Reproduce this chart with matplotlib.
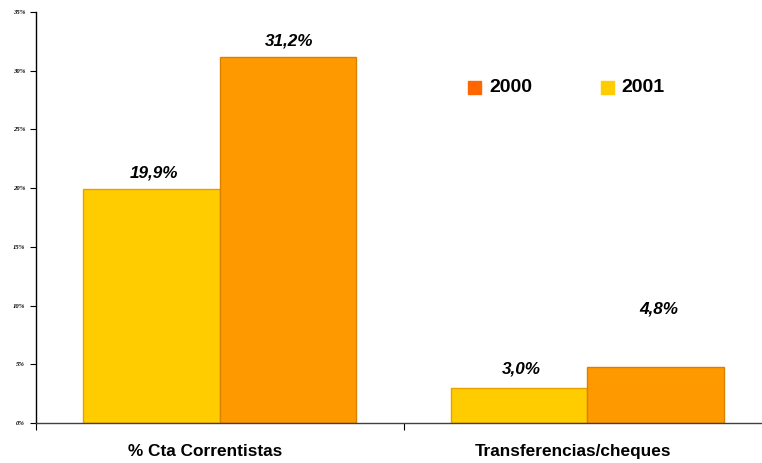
import matplotlib.pyplot as plt
import numpy as np

categories = ["% Cta Correntistas", "Transferencias/cheques"]
values_2001 = [19.9, 3.0]
values_2000 = [31.2, 4.8]
y_ticks = [0, 5, 10, 15, 20, 25, 30, 35]

YELLOW = "#FFCC00"
ORANGE = "#FF9900"
LEGEND_ORANGE = "#FF6600"

plt.rcParams["font.family"] = ["Liberation Sans", "DejaVu Sans"]

fig = plt.figure(figsize=(7.62, 4.63), dpi=100)
ax = fig.add_axes([36 / 762, 40 / 463, 735 / 762, 411 / 463])

x = np.arange(len(categories))
w = 0.372
bars_a = ax.bar(x - w / 2, values_2001, width=w, color=YELLOW,
                edgecolor="#E8A000", linewidth=1.0)
bars_b = ax.bar(x + w / 2, values_2000, width=w, color=ORANGE,
                edgecolor="#D98000", linewidth=1.0)

# value labels (offsets in points from each bar top)
offsets = [[(2, 6), (1, 6)], [(2, 8), (2, 36)]]
for i in range(len(categories)):
    for j, (bar, val) in enumerate([(bars_a[i], values_2001[i]), (bars_b[i], values_2000[i])]):
        dx, dy = offsets[i][j]
        ax.annotate(f"{val:.1f}%".replace(".", ","),
                    (bar.get_x() + bar.get_width() / 2, val),
                    xytext=(dx, dy), textcoords="offset points",
                    ha="center", va="bottom", fontsize=12.3,
                    fontweight="bold", fontstyle="italic")

ax.set_xlim(-0.5, 1.5)
ax.set_ylim(0, 35)
ax.set_yticks(y_ticks)
ax.set_yticklabels([f"{t}%" for t in y_ticks], family="Liberation Serif",
                   fontsize=4.8, fontweight="bold", fontstyle="italic")
ax.tick_params(axis="y", direction="out", length=4, width=0.8, pad=4)

# category labels, with tick marks between groups
ax.set_xticks([-0.5, 0.5])
ax.set_xticklabels([])
ax.tick_params(axis="x", direction="out", length=5, width=0.8)
for xi, name in zip(x, categories):
    ax.text(xi - 0.04, -1.8, name, ha="center", va="top", fontsize=12.4,
            fontweight="bold")

for side in ["top", "right"]:
    ax.spines[side].set_visible(False)
ax.spines["left"].set_linewidth(1.0)
ax.spines["bottom"].set_color("#404040")
ax.spines["bottom"].set_linewidth(1.0)

# legend
fig.patches.append(plt.Rectangle((468 / 762, 1 - 94 / 463), 13 / 762, 13 / 463,
                                 transform=fig.transFigure, color=LEGEND_ORANGE))
fig.text(489 / 762, 1 - 88 / 463, "2000", fontsize=14, fontweight="bold", va="center")
fig.patches.append(plt.Rectangle((601 / 762, 1 - 94 / 463), 13 / 762, 13 / 463,
                                 transform=fig.transFigure, color=YELLOW))
fig.text(621 / 762, 1 - 88 / 463, "2001", fontsize=14, fontweight="bold", va="center")

fig.savefig("out.png", dpi=100)
